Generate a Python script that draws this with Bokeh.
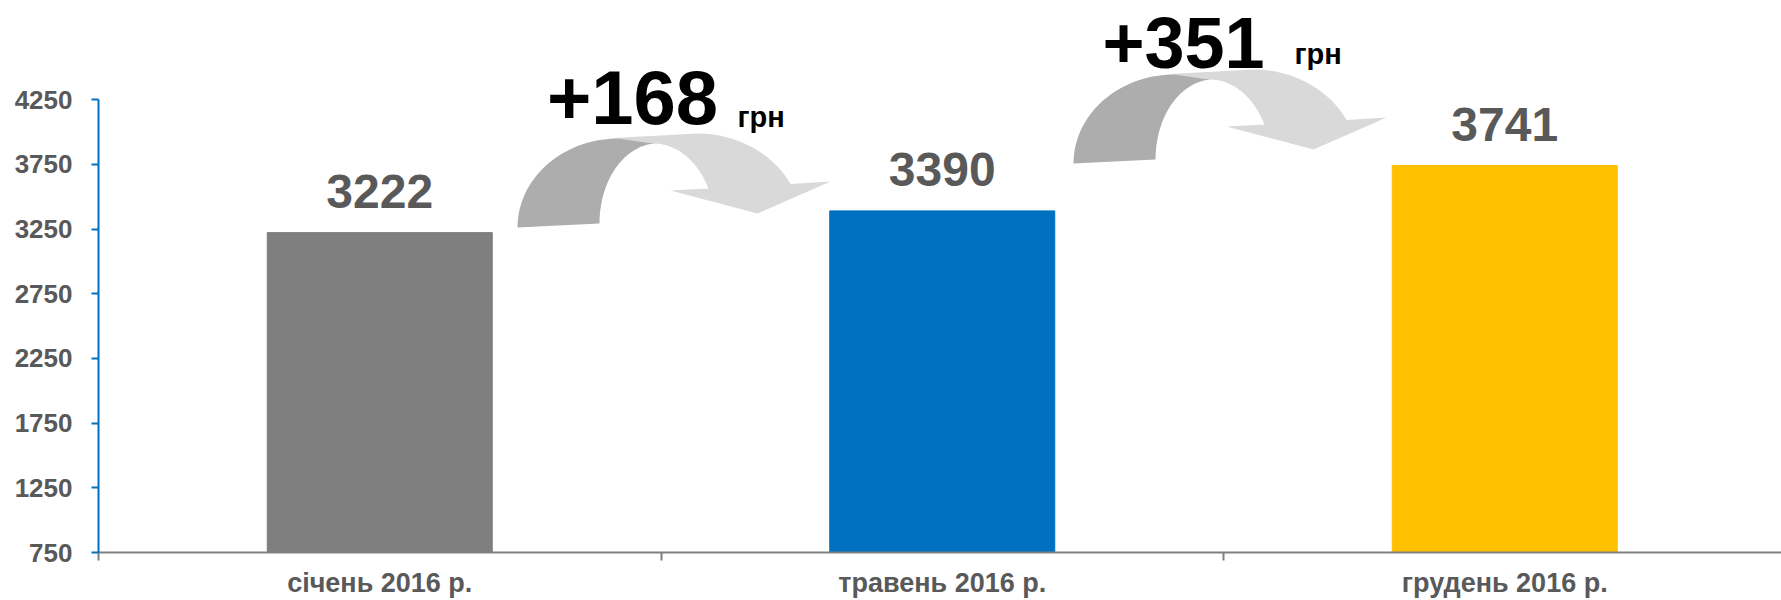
import numpy as np
from bokeh.plotting import figure
from bokeh.models import Range1d, FixedTicker, ColumnDataSource
from bokeh.core.properties import value
from bokeh.embed import file_html
from bokeh.resources import INLINE

# ---------------- data ----------------
categories = ["січень 2016 р.", "травень 2016 р.", "грудень 2016 р."]
salaries = [3222, 3390, 3741]
bar_colors = ["#7F7F7F", "#0070C0", "#FFC000"]
y_ticks = [750, 1250, 1750, 2250, 2750, 3250, 3750, 4250]
unit_label = "грн"

# ---------------- layout ----------------
FONT = "Liberation Sans"
W, H = 1781, 600
BL, BB = 98, 48
frame_w = W - BL
frame_h = H - BB
cat_px = 562.5
x_end = frame_w / cat_px
y0 = 750
px_per_val = 0.1294
y1 = y0 + frame_h / px_per_val
frame_left_page = BL
frame_bottom_page = frame_h


def to_data(px, py):
    return ((px - frame_left_page) / cat_px, y0 + (frame_bottom_page - py) / px_per_val)


p = figure(width=W, height=H, x_range=Range1d(0, x_end), y_range=Range1d(y0, y1),
           output_backend="svg", toolbar_location=None, tools="",
           min_border_left=BL, min_border_right=0, min_border_top=0, min_border_bottom=BB)
p.xgrid.visible = False
p.ygrid.visible = False
p.outline_line_color = None
p.background_fill_color = "white"
p.border_fill_color = "white"

# empirical shift of the rendered alphabetic baseline (fraction of font size)
BASE_FIX = 0.34

xs = [float(i) + 0.5 for i in range(len(categories))]
src = ColumnDataSource(dict(x=xs, top=salaries, color=bar_colors,
                            label=[str(v) for v in salaries],
                            ly=[v + (25 + BASE_FIX * 48) / px_per_val for v in salaries]))
p.vbar(x="x", top="top", bottom=y0, width=0.4, color="color", source=src)
p.text(x="x", y="ly", text="label", source=src, text_font=value(FONT), text_font_style="bold",
       text_font_size="48px", text_color="#595959", text_align="center", text_baseline="alphabetic")

# ---------------- curved arrows ----------------
def arc(cu, cv, rx, ry, t0, t1, n=40):
    t = np.radians(np.linspace(t0, t1, n))
    return list(cu + rx * np.cos(t)), list(cv + ry * np.sin(t))

# light (front) part
lu, lv = [96.0], [89.5]
au, av = arc(180, 0, 105, 94, 90, 27.6)
lu += au; lv += av
lu += [313, 240, 153, 191]; lv += [46, 14, 37, 39]
au, av = arc(136, 0, 62, 84, 27.5, 90)
lu += au; lv += av
# dark (back) part
du, dv = arc(101, 0, 101, 89, 180, 90)
du += [136]; dv += [84]
au, av = arc(140, 4, 58, 80, 94, 180)
du += au; dv += av

arrow_anchors = [(517, 227), (1073, 163)]
for ax_, ay_ in arrow_anchors:
    bx, by = to_data(ax_, ay_)
    p.patch([bx + u / cat_px for u in lu], [by + v / px_per_val for v in lv],
            fill_color="#D9D9D9", line_color=None)
    p.patch([bx + u / cat_px for u in du], [by + v / px_per_val for v in dv],
            fill_color="#ADADAD", line_color=None)

# ---------------- difference labels ----------------
UNIT_FS = 29
diff_fs = [76, 72]
diff_pos = [(632, 123), (1183, 67)]
unit_pos = [(737, 126), (1294, 63)]
diffs = ["+" + str(salaries[i + 1] - salaries[i]) for i in range(len(salaries) - 1)]
for (px_, py_), txt, fs in zip(diff_pos, diffs, diff_fs):
    tx, ty = to_data(px_, py_ - BASE_FIX * fs)
    p.text(x=[tx], y=[ty], text=[txt], text_font=value(FONT), text_font_style="bold",
           text_font_size=f"{fs}px", text_color="black", text_align="center",
           text_baseline="alphabetic")
ux, uy = zip(*[to_data(px_, py_ - BASE_FIX * UNIT_FS) for px_, py_ in unit_pos])
p.text(x=list(ux), y=list(uy), text=[unit_label] * len(diffs), text_font=value(FONT),
       text_font_style="bold", text_font_size=f"{UNIT_FS}px", text_color="black",
       text_align="left", text_baseline="alphabetic")

# ---------------- axes ----------------
ya = p.yaxis[0]
ya.ticker = FixedTicker(ticks=y_ticks)
ya.bounds = (y_ticks[0], y_ticks[-1])
ya.axis_line_color = "#0070C0"
ya.axis_line_width = 2
ya.major_tick_line_color = "#0070C0"
ya.major_tick_line_width = 2
ya.major_tick_in = 0
ya.major_tick_out = 7
ya.minor_tick_line_color = None
ya.major_label_text_font = FONT
ya.major_label_text_font_style = "bold"
ya.major_label_text_font_size = "26px"
ya.major_label_text_color = "#595959"
ya.major_label_standoff = 19

xa = p.xaxis[0]
xa.ticker = FixedTicker(ticks=xs, minor_ticks=[float(i) for i in range(len(categories) + 1)])
xa.major_label_overrides = {x: c for x, c in zip(xs, categories)}
xa.axis_line_color = "#808080"
xa.axis_line_width = 2
xa.major_tick_line_color = None
xa.major_tick_in = 0
xa.major_tick_out = 0
xa.minor_tick_line_color = "#808080"
xa.minor_tick_line_width = 2
xa.minor_tick_in = 0
xa.minor_tick_out = 8
xa.major_label_text_font = FONT
xa.major_label_text_font_style = "bold"
xa.major_label_text_font_size = "27px"
xa.major_label_text_color = "#595959"
xa.major_label_standoff = 7

open("out.html", "w").write(file_html(p, INLINE))
